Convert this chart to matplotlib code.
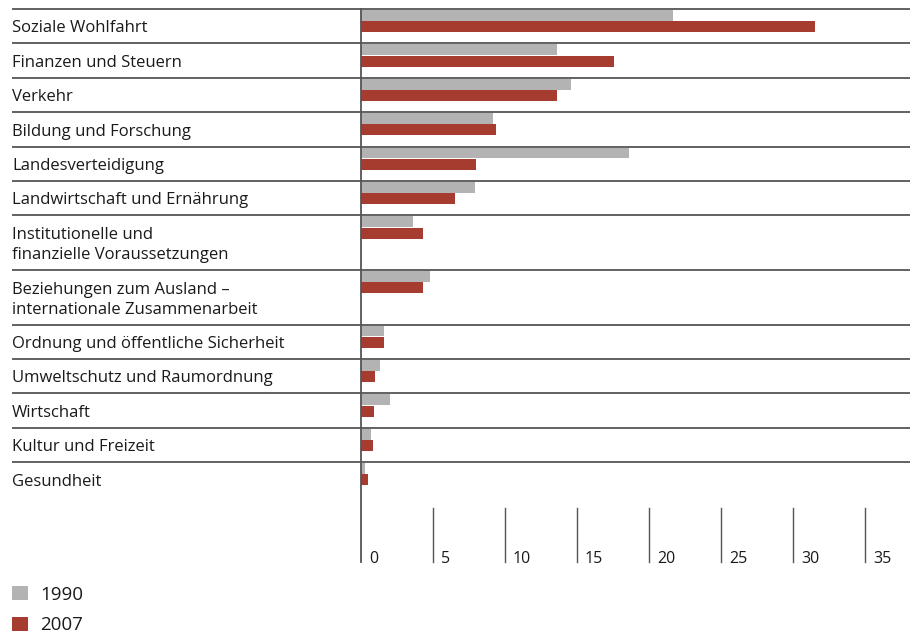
import matplotlib
matplotlib.use('Agg')
import matplotlib.pyplot as plt
from matplotlib.transforms import blended_transform_factory

plt.rcParams['font.family'] = ['Open Sans', 'DejaVu Sans']

categories = [
    'Soziale Wohlfahrt',
    'Finanzen und Steuern',
    'Verkehr',
    'Bildung und Forschung',
    'Landesverteidigung',
    'Landwirtschaft und Ernährung',
    'Institutionelle und\nfinanzielle Voraussetzungen',
    'Beziehungen zum Ausland –\ninternationale Zusammenarbeit',
    'Ordnung und öffentliche Sicherheit',
    'Umweltschutz und Raumordnung',
    'Wirtschaft',
    'Kultur und Freizeit',
    'Gesundheit',
]
values_1990 = [21.7, 13.6, 14.6, 9.2, 18.6, 7.9, 3.6, 4.8, 1.6, 1.3, 2.0, 0.7, 0.3]
values_2007 = [31.5, 17.6, 13.6, 9.4, 8.0, 6.5, 4.3, 4.3, 1.6, 1.0, 0.9, 0.8, 0.5]
xticks = [0, 5, 10, 15, 20, 25, 30, 35]
series = ['1990', '2007']

GRAY = '#b3b3b3'
RED = '#a63b30'
LINE = '#555555'
TEXT = '#1a1a1a'

W, H = 917, 634
X0 = 361          # pixel position of zero
PX = 14.4         # pixels per unit

fig = plt.figure(figsize=(W / 100, H / 100), dpi=100)
ax = fig.add_axes([0, 0, 1, 1])
ax.set_xlim(-X0 / PX, (W - X0) / PX)
ax.set_ylim(H, 0)
ax.axis('off')

# axes-fraction x, pixel y
tr = blended_transform_factory(ax.transAxes, ax.transData)

# row layout: single-line rows and two-line rows
top = 9.0
row_tops = []
for cat in categories:
    row_tops.append(top)
    top += 54.6 if '\n' in cat else 34.4

for i, (cat, rt) in enumerate(zip(categories, row_tops)):
    ax.plot([12 / W, 910 / W], [rt, rt], color=LINE, lw=1.3, transform=tr,
            solid_capstyle='butt')
    ax.barh(rt + 1.0, values_1990[i], height=10.8, left=0, align='edge',
            color=GRAY, linewidth=0)
    ax.barh(rt + 12.2, values_2007[i], height=11.0, left=0, align='edge',
            color=RED, linewidth=0)
    for j, line in enumerate(cat.split('\n')):
        ax.text(12 / W, rt + 23.5 + 20.5 * j, line, transform=tr, fontsize=12,
                va='baseline', ha='left', color=TEXT)

# zero axis and ticks
ax.plot([0, 0], [9, 562], color=LINE, lw=1.3)
for t in xticks:
    if t:
        ax.plot([t, t], [508, 562], color=LINE, lw=1.0)
    ax.text(t + 8 / PX, 563, str(t), fontsize=11.5, va='baseline', ha='left',
            color=TEXT)

# legend
for k, (name, col) in enumerate(zip(series, [GRAY, RED])):
    y = 585.5 + 31 * k
    ax.add_patch(plt.Rectangle((12 / W, y), 16 / W, 14, transform=tr,
                               color=col, lw=0))
    ax.text(40 / W, y + 14, name, transform=tr, fontsize=13.5, va='baseline',
            ha='left', color=TEXT)

fig.savefig('out.png', dpi=100)
